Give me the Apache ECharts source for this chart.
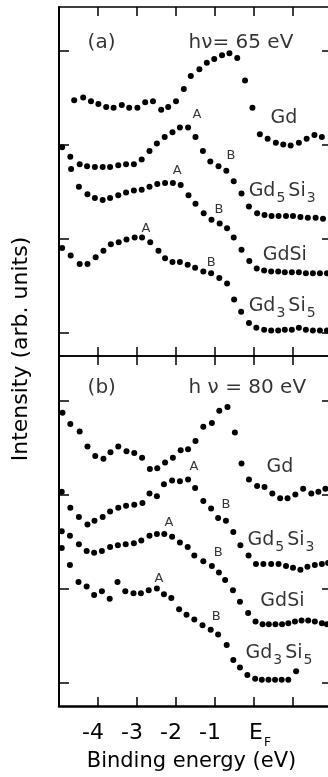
<!DOCTYPE html>
<html>
<head>
<meta charset="utf-8">
<script src="https://cdn.jsdelivr.net/npm/echarts@6/dist/echarts.min.js"></script>
<style>
  html, body { margin: 0; padding: 0; background: #fff; }
  #chart { width: 328px; height: 777px; }
</style>
</head>
<body>
<div id="chart"></div>
<script>
// Valence-band photoemission spectra of Gd and Gd silicides, two photon energies.
// Binding energy in eV relative to E_F, intensity in arbitrary (offset) units.

// ---- hν = 65 eV ----
const energy65Gd = [-4.61,-4.38,-4.18,-3.99,-3.79,-3.60,-3.39,-3.20,-2.99,-2.79,-2.59,-2.38,-2.20,-2.00,-1.80,-1.62,-1.40,-1.21,-1.02,-0.82,-0.63,-0.43,-0.23,-0.04,0.15,0.35,0.56,0.75,0.94,1.15,1.35,1.55,1.74];
const intensity65Gd = [2.47,2.50,2.46,2.43,2.40,2.39,2.42,2.39,2.39,2.45,2.46,2.37,2.40,2.46,2.59,2.73,2.80,2.87,2.91,2.95,2.97,2.92,2.68,2.39,2.11,2.06,2.02,2.00,1.99,2.02,2.06,2.10,2.08];

const energy65Gd5Si3 = [-4.92,-4.71,-4.47,-4.28,-4.08,-3.88,-3.69,-3.48,-3.28,-3.08,-2.88,-2.68,-2.49,-2.29,-2.09,-1.90,-1.69,-1.50,-1.31,-1.12,-0.91,-0.71,-0.52,-0.32,-0.13,0.08,0.27,0.45,0.63,0.82,1.00,1.19,1.38,1.58,1.77];
const intensity65Gd5Si3 = [1.97,1.87,1.79,1.77,1.76,1.76,1.76,1.78,1.79,1.79,1.84,1.93,2.01,2.08,2.13,2.18,2.18,2.08,1.93,1.82,1.77,1.72,1.61,1.48,1.34,1.27,1.25,1.24,1.24,1.24,1.24,1.23,1.22,1.22,1.21];

const energy65GdSi = [-4.69,-4.49,-4.27,-4.08,-3.88,-3.69,-3.48,-3.28,-3.08,-2.88,-2.68,-2.48,-2.28,-2.08,-1.88,-1.68,-1.50,-1.29,-1.09,-0.88,-0.69,-0.52,-0.32,-0.12,0.07,0.26,0.44,0.62,0.79,0.97,1.15,1.33,1.51,1.69,1.87];
const intensity65GdSi = [1.74,1.55,1.47,1.43,1.41,1.43,1.46,1.49,1.51,1.52,1.55,1.58,1.59,1.59,1.57,1.46,1.37,1.27,1.20,1.16,1.11,1.01,0.88,0.76,0.68,0.66,0.65,0.65,0.64,0.64,0.64,0.63,0.63,0.63,0.63];

const energy65Gd3Si5 = [-4.92,-4.70,-4.47,-4.27,-4.06,-3.86,-3.67,-3.47,-3.27,-3.06,-2.87,-2.66,-2.45,-2.28,-2.09,-1.90,-1.70,-1.51,-1.30,-1.10,-0.89,-0.69,-0.51,-0.33,-0.13,0.06,0.26,0.44,0.62,0.79,0.97,1.15,1.33,1.51,1.69,1.87];
const intensity65Gd3Si5 = [0.90,0.82,0.73,0.73,0.80,0.87,0.94,0.96,0.99,1.01,1.01,0.96,0.87,0.79,0.75,0.75,0.72,0.69,0.65,0.63,0.58,0.52,0.35,0.22,0.10,0.05,0.03,0.02,0.02,0.03,0.03,0.05,0.03,0.02,0.02,0.02];

// ---- hν = 80 eV ----
const energy80Gd = [-4.91,-4.71,-4.47,-4.27,-4.07,-3.86,-3.68,-3.48,-3.27,-3.07,-2.87,-2.67,-2.48,-2.28,-2.08,-1.88,-1.69,-1.50,-1.30,-1.08,-0.89,-0.68,-0.49,-0.32,-0.13,0.08,0.27,0.47,0.67,0.86,1.06,1.26,1.47,1.65,1.83];
const intensity80Gd = [2.87,2.75,2.67,2.51,2.41,2.38,2.45,2.51,2.46,2.44,2.39,2.27,2.28,2.34,2.39,2.47,2.48,2.57,2.72,2.76,2.89,2.93,2.66,2.33,2.16,2.09,2.08,2.01,1.96,1.96,2.00,2.06,2.01,2.03,2.06];

const energy80Gd5Si3 = [-4.93,-4.71,-4.49,-4.27,-4.09,-3.88,-3.69,-3.48,-3.28,-3.07,-2.86,-2.68,-2.49,-2.31,-2.10,-1.90,-1.69,-1.51,-1.30,-1.10,-0.92,-0.72,-0.53,-0.35,-0.14,0.05,0.24,0.44,0.63,0.82,1.00,1.19,1.37,1.56,1.74,1.90];
const intensity80Gd5Si3 = [2.03,1.86,1.76,1.68,1.72,1.76,1.82,1.86,1.88,1.89,1.91,2.01,1.98,2.11,2.15,2.14,2.16,2.07,1.93,1.85,1.75,1.72,1.60,1.46,1.35,1.26,1.26,1.26,1.26,1.24,1.22,1.20,1.23,1.25,1.26,1.27];

const energy80GdSi = [-4.93,-4.72,-4.49,-4.29,-4.10,-3.90,-3.69,-3.49,-3.29,-3.08,-2.89,-2.68,-2.49,-2.30,-2.10,-1.90,-1.70,-1.53,-1.30,-1.08,-0.90,-0.74,-0.54,-0.36,-0.15,0.04,0.22,0.38,0.55,0.72,0.88,1.05,1.22,1.39,1.56,1.74,1.87];
const intensity80GdSi = [1.61,1.56,1.47,1.40,1.38,1.40,1.44,1.46,1.47,1.48,1.51,1.56,1.58,1.58,1.55,1.49,1.44,1.35,1.29,1.24,1.17,1.09,0.98,0.86,0.74,0.65,0.62,0.62,0.62,0.62,0.63,0.65,0.66,0.66,0.65,0.63,0.62];

const energy80Gd3Si5 = [-4.93,-4.72,-4.50,-4.29,-4.10,-3.90,-3.70,-3.50,-3.30,-3.09,-2.90,-2.70,-2.49,-2.31,-2.12,-1.92,-1.73,-1.53,-1.32,-1.11,-0.92,-0.70,-0.53,-0.36,-0.17,0.03,0.20,0.37,0.54,0.71,0.88,1.08];
const intensity80Gd3Si5 = [1.43,1.25,1.07,1.02,0.93,0.97,0.89,1.07,0.97,0.95,0.95,0.98,1.00,0.94,0.90,0.78,0.72,0.67,0.61,0.56,0.51,0.40,0.24,0.16,0.08,0.04,0.03,0.03,0.03,0.03,0.03,0.12];

// Axis ticks
const energyTicks = [-4, -3, -2, -1, 0];
const energyTickLabels = ['-4', '-3', '-2', '-1', 'E_F'];
const intensityTicks = [0, 1, 2, 3];

// Annotations: [energy, intensity, text]
const titles65 = [[-4.28, 3.07, '(a)'], [-1.69, 3.07, 'hν= 65 eV']];
const titles80 = [[-4.28, 3.12, '(b)'], [-1.69, 3.12, 'h ν = 80 eV']];
const curveNames65 = [[0.41, 2.27, 'Gd'], [-0.15, 1.49, 'Gd5Si3'], [0.21, 0.81, 'GdSi'], [-0.15, 0.27, 'Gd3Si5']];
const curveNames80 = [[0.31, 2.28, 'Gd'], [-0.18, 1.50, 'Gd5Si3'], [0.15, 0.85, 'GdSi'], [-0.23, 0.30, 'Gd3Si5']];
const peakMarks65 = [[-1.46, 2.32, 'A'], [-0.59, 1.88, 'B'], [-1.97, 1.72, 'A'], [-0.90, 1.31, 'B'], [-2.77, 1.11, 'A'], [-1.10, 0.74, 'B']];
const peakMarks80 = [[-1.54, 2.30, 'A'], [-0.72, 1.89, 'B'], [-2.18, 1.70, 'A'], [-0.92, 1.38, 'B'], [-2.44, 1.10, 'A'], [-0.97, 0.70, 'B']];

const FONT = 'DejaVu Sans';
const INK = '#000';

function pairs(xs, ys) { return xs.map((x, i) => [x, ys[i]]); }
// chemical formula: digits after element symbols become subscripts
function chemMarkup(t) {
  return t.replace(/([^0-9]+)(\d*)/g, (m, a, d) => '{b|' + a + '}' + (d ? '{s|' + d + '}' : ''));
}

const panels = [
  { curves: [[energy65Gd, intensity65Gd], [energy65Gd5Si3, intensity65Gd5Si3], [energy65GdSi, intensity65GdSi], [energy65Gd3Si5, intensity65Gd3Si5]],
    titles: titles65, names: curveNames65, peaks: peakMarks65, max: 3.463 },
  { curves: [[energy80Gd, intensity80Gd], [energy80Gd5Si3, intensity80Gd5Si3], [energy80GdSi, intensity80GdSi], [energy80Gd3Si5, intensity80Gd3Si5]],
    titles: titles80, names: curveNames80, peaks: peakMarks80, max: 3.473 }
];

const grids = [
  { left: 59, top: 7, width: 273, height: 349, outerBoundsMode: 'none', containLabel: false },
  { left: 59, top: 356, width: 273, height: 350, outerBoundsMode: 'none', containLabel: false }
];

function xAxisFor(gridIndex, position, lineWidth, withLabels) {
  const ax = {
    type: 'value', gridIndex, position, min: -5, max: 2, interval: 1,
    splitLine: { show: false },
    axisLine: { onZero: false, lineStyle: { color: INK, width: lineWidth } },
    axisTick: { inside: true, length: 9, lineStyle: { color: INK, width: 1.5 } },
    axisLabel: { show: false }
  };
  if (withLabels) {
    ax.axisLabel = {
      show: true, margin: 16, color: INK, fontFamily: FONT, fontSize: 22,
      formatter: v => {
        const i = energyTicks.indexOf(v);
        if (i < 0) return '';
        const t = energyTickLabels[i];
        if (t === 'E_F') return '{e|E}{f|F}';
        return '{n|' + t + '}';
      },
      rich: {
        n: { fontFamily: FONT, fontSize: 22, color: INK, padding: [0, 10, 0, 0], verticalAlign: 'top', lineHeight: 24 },
        e: { fontFamily: FONT, fontSize: 22, color: INK, padding: [0, 0, 0, 12], verticalAlign: 'top', lineHeight: 24 },
        f: { fontFamily: FONT, fontSize: 12, color: INK, padding: [15, 0, 0, 1], verticalAlign: 'top', lineHeight: 13 }
      }
    };
    ax.name = 'Binding energy (eV)';
    ax.nameLocation = 'middle';
    ax.nameGap = 45;
    ax.nameTextStyle = { fontFamily: FONT, fontSize: 21, color: INK, padding: [0, 8, 0, 0] };
  }
  return ax;
}

function yAxisFor(gridIndex, position, max) {
  return {
    type: 'value', gridIndex, position, min: -0.25, max,
    splitLine: { show: false },
    axisLine: { onZero: false, lineStyle: { color: INK, width: 2 } },
    axisTick: { inside: true, length: 10, customValues: intensityTicks, lineStyle: { color: INK, width: 1.5 } },
    axisLabel: { show: false }
  };
}

const xAxes = [
  xAxisFor(0, 'top', 1.5, false),
  xAxisFor(0, 'bottom', 1.5, false),
  xAxisFor(1, 'top', 1.5, false),
  xAxisFor(1, 'bottom', 2.5, true)
];
const yAxes = [
  yAxisFor(0, 'left', panels[0].max),
  yAxisFor(0, 'right', panels[0].max),
  yAxisFor(1, 'left', panels[1].max),
  yAxisFor(1, 'right', panels[1].max)
];

const nameRich = {
  b: { fontFamily: FONT, fontSize: 19, color: INK, verticalAlign: 'top', lineHeight: 22 },
  s: { fontFamily: FONT, fontSize: 14, color: INK, verticalAlign: 'top', lineHeight: 14, padding: [10, 3, 0, 1] }
};
const titleRich = {
  b: { fontFamily: FONT, fontSize: 20, color: INK, verticalAlign: 'top', lineHeight: 22 }
};

const series = [];
panels.forEach((p, k) => {
  const xi = k === 0 ? 1 : 3;
  const yi = k === 0 ? 0 : 2;
  p.curves.forEach(([xs, ys]) => {
    series.push({
      type: 'scatter', xAxisIndex: xi, yAxisIndex: yi,
      symbol: 'circle', symbolSize: 6, silent: true,
      itemStyle: { color: INK, opacity: 1 },
      data: pairs(xs, ys)
    });
  });
  // panel title and photon energy
  series.push({
    type: 'scatter', xAxisIndex: xi, yAxisIndex: yi, silent: true, z: 5,
    symbolSize: 1, itemStyle: { color: 'rgba(0,0,0,0)' },
    data: p.titles.map(d => ({ value: d })),
    label: {
      show: true, position: 'right', distance: 0, color: INK,
      formatter: q => '{b|' + q.value[2] + '}',
      rich: titleRich
    }
  });
  // compound names next to each spectrum
  series.push({
    type: 'scatter', xAxisIndex: xi, yAxisIndex: yi, silent: true, z: 5,
    symbolSize: 1, itemStyle: { color: 'rgba(0,0,0,0)' },
    data: p.names.map(d => ({ value: d })),
    label: {
      show: true, position: 'right', distance: 0, color: INK,
      formatter: q => chemMarkup(q.value[2]),
      rich: nameRich
    }
  });
  // peak markers A and B
  series.push({
    type: 'scatter', xAxisIndex: xi, yAxisIndex: yi, silent: true, z: 5,
    symbolSize: 1, itemStyle: { color: 'rgba(0,0,0,0)' },
    data: p.peaks.map(d => ({ value: d })),
    label: {
      show: true, position: 'inside', color: INK,
      fontFamily: FONT, fontSize: 13,
      formatter: q => q.value[2]
    }
  });
});

const chart = echarts.init(document.getElementById('chart'), null, { renderer: 'canvas' });
chart.setOption({
  animation: false,
  backgroundColor: '#fff',
  grid: grids,
  xAxis: xAxes,
  yAxis: yAxes,
  series,
  graphic: [{
    type: 'text', x: 21, y: 349, rotation: Math.PI / 2,
    style: { text: 'Intensity (arb. units)', font: '22px "DejaVu Sans"', fill: INK, align: 'center', verticalAlign: 'middle' }
  }]
});
</script>
</body>
</html>
